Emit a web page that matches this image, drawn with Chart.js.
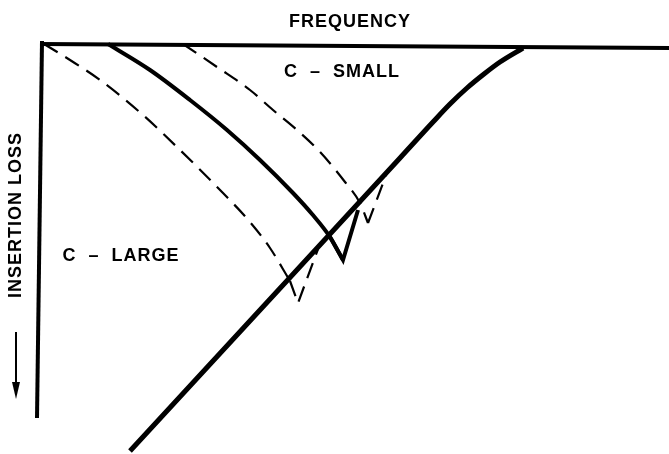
<!DOCTYPE html>
<html>
<head>
<meta charset="utf-8">
<script src="https://cdn.jsdelivr.net/npm/chart.js@4/dist/chart.umd.min.js"></script>
<style>
html,body{margin:0;padding:0;background:#fff;}
#wrap{width:669px;height:454px;}
</style>
</head>
<body>
<div id="wrap"><canvas id="c" width="669" height="454"></canvas></div>
<script>
// Schematic: frequency (x, rightwards) vs insertion loss (y, downwards)
const frame_top = [[40,44],[669,48]];
const frame_left = [[42,41],[37,418]];
const asymptote = [[130,451],[260,310],[400,158],[433,122],[450,104],[467,88],[484,74],[500,62],[523,48]];
const curve_mid = [[108,44],[150,70],[190,100],[227,130],[260,160],[293,193],[312,214],[330,237],[343,260]];
const notch_mid = [[330,237],[343,260],[358,210]];
const curve_large = [[44,44],[70,60],[100,80],[143,115],[180,150],[223,193],[250,222],[270,248],[290,281]];
const notch_large = [[290,281],[298,303],[318,249]];
const curve_small = [[183,44],[217,67],[250,90],[273,110],[297,130],[320,152],[345,182],[360,203],[368,223]];
const notch_small = [[368,223],[388,170]];
const labels = [
  {text:'FREQUENCY', x:350, y:22, rot:0},
  {text:'C  \u2013  SMALL', x:342, y:72, rot:0},
  {text:'C  \u2013  LARGE', x:121, y:256, rot:0},
  {text:'INSERTION LOSS', x:16, y:215, rot:-90}
];
const arrow = [[16,332],[16,399]];

const toPts = a => a.map(p => ({x:p[0], y:p[1]}));
function ds(arr, w, dash, smooth){
  return {data: toPts(arr), showLine:true, borderColor:'#000', borderWidth:w,
    borderDash: dash||[], tension: smooth?0.4:0, pointRadius:0, fill:false,
    borderJoinStyle:'miter', cubicInterpolationMode: smooth?'monotone':'default'};
}

const textPlugin = {
  id:'txt',
  afterDatasetsDraw(chart){
    const ctx = chart.ctx;
    const xs = chart.scales.x, ys = chart.scales.y;
    ctx.save();
    ctx.fillStyle = '#000';
    ctx.font = 'bold 18px "Liberation Sans", Arial, sans-serif';
    try { ctx.letterSpacing = '1px'; } catch(e) {}
    ctx.textAlign = 'center';
    ctx.textBaseline = 'middle';
    labels.forEach(l => {
      ctx.save();
      ctx.translate(xs.getPixelForValue(l.x), ys.getPixelForValue(l.y));
      ctx.rotate(l.rot*Math.PI/180);
      ctx.fillText(l.text, 0, 0);
      ctx.restore();
    });
    // arrow
    const ax = xs.getPixelForValue(arrow[0][0]);
    const ay0 = ys.getPixelForValue(arrow[0][1]);
    const ay1 = ys.getPixelForValue(arrow[1][1]);
    ctx.strokeStyle = '#000';
    ctx.lineWidth = 2;
    ctx.beginPath(); ctx.moveTo(ax, ay0); ctx.lineTo(ax, ay1-12); ctx.stroke();
    ctx.beginPath(); ctx.moveTo(ax-4, ay1-17); ctx.lineTo(ax+4, ay1-17); ctx.lineTo(ax, ay1); ctx.closePath(); ctx.fill();
    ctx.restore();
  }
};

new Chart(document.getElementById('c'), {
  type:'scatter',
  data:{datasets:[
    ds(frame_top, 4),
    ds(frame_left, 4),
    ds(asymptote, 5, null, true),
    ds(curve_mid, 4, null, true),
    ds(notch_mid, 4),
    ds(curve_large, 2.2, [16,9], true),
    ds(notch_large, 2.2, [16,9]),
    ds(curve_small, 2.2, [16,9], true),
    ds(notch_small, 2.2, [16,9])
  ]},
  options:{
    responsive:false, animation:false,
    layout:{padding:0},
    plugins:{legend:{display:false}, tooltip:{enabled:false}, title:{display:false}},
    scales:{
      x:{type:'linear', min:0, max:669, display:false},
      y:{type:'linear', min:0, max:454, reverse:true, display:false}
    }
  },
  plugins:[textPlugin]
});
</script>
</body>
</html>
